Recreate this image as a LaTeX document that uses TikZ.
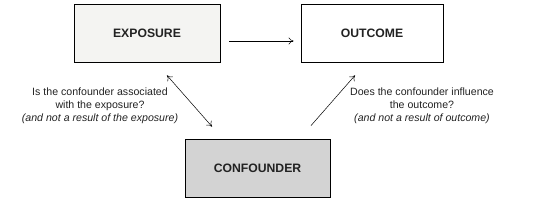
\documentclass[tikz,border=0pt]{standalone}
\usepackage{fontspec}
\setmainfont{Liberation Sans}
\usetikzlibrary{arrows.meta}
\definecolor{lightbox}{HTML}{F4F4F2}
\definecolor{darkbox}{HTML}{D3D3D3}
\definecolor{inkgray}{HTML}{222222}
\begin{document}
\begin{tikzpicture}[x=1pt,y=1pt,
        box/.style = {draw, line width=0.8pt, minimum height=58pt, text=inkgray, font=\fontsize{12.2}{14}\selectfont\bfseries},
        question/.style = {align=center, text=inkgray, font=\fontsize{10.6}{12.8}\selectfont},
        link/.style = {-{To[length=5pt,width=7pt]}, line width=0.5pt}]
        \useasboundingbox (0,0) rectangle (545,205);
        \node[box, fill=lightbox, minimum width=146pt] (exposure) at (147,172) {EXPOSURE};
        \node[box, fill=white, minimum width=142pt] (outcome) at (372,172) {OUTCOME};
        \node[box, fill=darkbox, minimum width=145pt] (confounder) at (257.5,37) {CONFOUNDER};

        \draw[link] ([shift={(9,-8)}]exposure.east) -- ([shift={(-7,-8)}]outcome.west);
        \draw[link, {To[length=5pt,width=7pt]}-{To[length=5pt,width=7pt]}] ([shift={(20,-13)}]exposure.south) -- ([shift={(-45.5,12)}]confounder.north);
        \draw[link] ([shift={(53.5,13)}]confounder.north) -- ([shift={(-17,-13)}]outcome.south);

        \node[question] (askexposure) at (100,99) {Is the confounder associated\\with the exposure?\\\textit{(and not a result of the exposure)}};
        \node[question] (askoutcome) at (422,99) {Does the confounder influence\\the outcome?\\\textit{(and not a result of outcome)}};
    \end{tikzpicture}
\end{document}
